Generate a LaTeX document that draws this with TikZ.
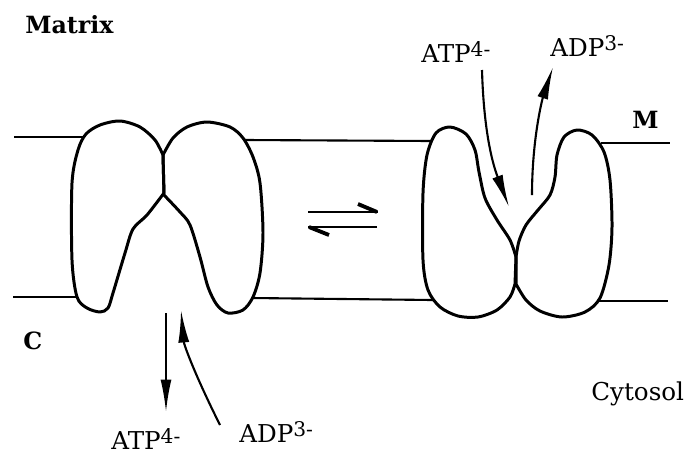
\documentclass[tikz,border=0pt]{standalone}
\usepackage{fontspec}
\setmainfont{DejaVu Serif}
\usetikzlibrary{arrows.meta}
\newcommand{\chg}[1]{\raisebox{3.4pt}{\fontsize{11.5}{13}\selectfont#1}}

\begin{document}
\begin{tikzpicture}[x=0.02cm,y=-0.02cm]
\tikzstyle{membrane} = [line width=1.2pt]
\tikzstyle{carrier} = [line width=1.7pt, line join=round]
\tikzstyle{flux} = [line width=1.2pt, -{Latex[length=6.5mm,width=2.2mm]}]
\tikzstyle{ion} = [font=\fontsize{14}{16}\selectfont, inner sep=0pt, anchor=base west]
\tikzstyle{side} = [ion, font=\fontsize{13.5}{16}\selectfont\bfseries]
\useasboundingbox (0,0) rectangle (686,454);

\draw[membrane] (14,137) -- (84,137);
\draw[membrane] (13,297) -- (78,297);
\draw[membrane] (245,140) -- (432,141);
\draw[membrane] (252,298) -- (433,300);
\draw[membrane] (601,143) -- (670,143);
\draw[membrane] (598,301) -- (668,301);

\draw[carrier] plot[smooth] coordinates {(164,193) (147,215) (133,229) (125,253) (113,293) (108,308) (100,312) (87,308) (77,297) (72,260) (72,183) (78,150) (86,134) (100,125) (120,121) (140,127) (155,140) (163,155)} -- cycle;
\draw[carrier] plot[smooth] coordinates {(163,155) (173,138) (187,127) (207,122) (230,127) (243,138) (253,157) (260,183) (263,233) (260,273) (253,297) (243,310) (228,313) (217,305) (208,287) (200,257) (190,225) (180,212) (164,195)} -- cycle;
\draw[carrier] plot[smooth] coordinates {(516,257) (510,240) (497,220) (485,198) (479,172) (475,150) (466,134) (450,127) (436,133) (427,155) (423,193) (423,260) (428,290) (440,307) (458,316) (478,317) (497,310) (510,297) (515,284)} -- cycle;
\draw[carrier] plot[smooth] coordinates {(516,257) (519,241) (526,225) (538,210) (550,195) (555,177) (557,155) (564,137) (577,130) (592,135) (604,152) (610,180) (612,227) (609,265) (600,298) (585,312) (562,317) (540,311) (526,300) (516,284)} -- cycle;

\draw[line width=1.3pt] (308,212) -- (378,212);
\draw[line width=2.2pt] (377,212) -- (358,204);
\draw[line width=1.3pt] (377,227) -- (308,227);
\draw[line width=2.2pt] (309,227) -- (329,235);

\node[side] (matrix) at (25,33) {Matrix};
\node[side] (cside) at (23,349) {C};
\node[side] (mside) at (632,128) {M};
\node[ion] (cytosol) at (591,400) {Cytosol};
\node[ion] (atpm) at (421,62) {ATP\chg{4-}};
\node[ion] (adpm) at (550,56) {ADP\chg{3-}};
\node[ion] (atpc) at (111,449) {ATP\chg{4-}};
\node[ion] (adpc) at (239,442) {ADP\chg{3-}};

\coordinate (atpmtail) at (482,70);
\coordinate (atpmhead) at (509,207);
\coordinate (adpmtail) at (532,195);
\coordinate (adpmhead) at (553,67);
\coordinate (atpctail) at (166,313);
\coordinate (atpchead) at (166,412);
\coordinate (adpctail) at (220,425);
\coordinate (adpchead) at (181,310);

\draw[flux] (atpmtail) .. controls (484,140) and (495,170) .. (atpmhead);
\draw[flux] (adpmtail) .. controls (532,140) and (542,100) .. (adpmhead);
\draw[flux] (atpctail) -- (atpchead);
\draw[flux] (adpctail) .. controls (195,375) and (184,345) .. (adpchead);
\end{tikzpicture}
\end{document}
